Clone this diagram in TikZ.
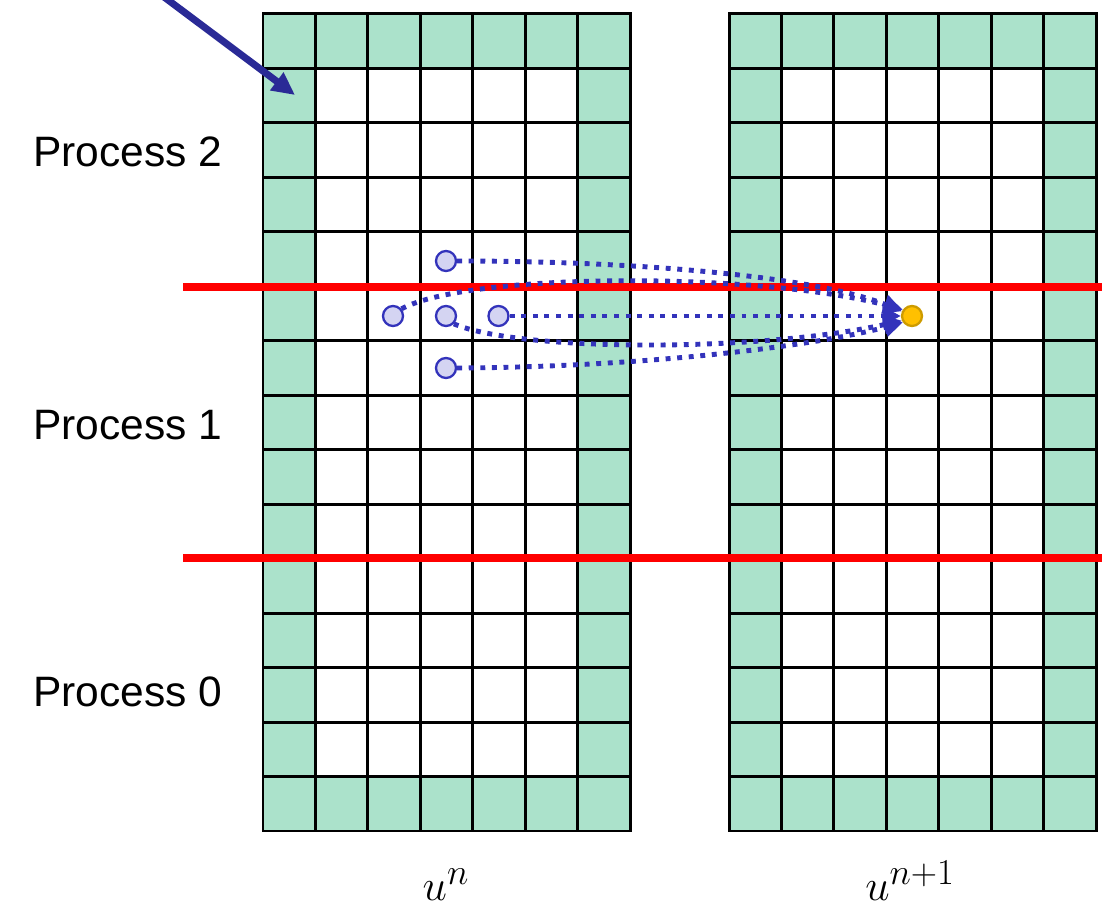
\documentclass[tikz,border=0pt]{standalone}
\usepackage{fontspec}
\setmainfont{Liberation Sans}
\usetikzlibrary{arrows.meta}
\definecolor{halo}{RGB}{171,226,203}
\definecolor{dotblue}{RGB}{51,51,187}
\definecolor{ptfill}{RGB}{212,212,242}
\definecolor{navy}{RGB}{42,42,150}
\definecolor{amber}{RGB}{255,192,0}
\definecolor{amberline}{RGB}{205,155,0}
\definecolor{redline}{RGB}{255,0,0}
\begin{document}
\begin{tikzpicture}[x=0.02cm,y=-0.02cm,
  gridline/.style={black,line width=1.7pt},
  divider/.style={redline,line width=4.4pt},
  flow/.style={dotblue,line width=2.8pt,dash pattern=on 2.8pt off 3.8pt,
    -{Triangle[length=10.5pt,width=10.5pt]}},
  pointer/.style={navy,line width=4pt,-{Triangle[length=13pt,width=12pt]}},
  srcpt/.style={circle,draw=dotblue,fill=ptfill,line width=1.3pt,minimum size=0.4cm,inner sep=0pt},
  dstpt/.style={circle,draw=amberline,fill=amber,line width=1.3pt,minimum size=0.4cm,inner sep=0pt},
  proclabel/.style={anchor=west,inner sep=0pt,font=\fontsize{24.2}{28}\selectfont},
  fieldlabel/.style={anchor=base,inner sep=0pt,font=\fontsize{30}{34}\selectfont}]
\useasboundingbox (0,0) rectangle (1102,908);
% grids
\foreach \X in {263,729} {
  \fill[halo] (\X,14) rectangle (\X+367,68.47);
  \fill[halo] (\X,776.53) rectangle (\X+367,831);
  \fill[halo] (\X,14) rectangle (\X+52.43,831);
  \fill[halo] (\X+314.57,14) rectangle (\X+367,831);
  \foreach \i in {1,...,6} \draw[gridline] (\X+\i*52.43,14) -- (\X+\i*52.43,831);
  \foreach \j in {1,...,14} \draw[gridline] (\X,14+\j*54.47) -- (\X+367,14+\j*54.47);
  \draw[gridline] (\X,14) rectangle (\X+367,831);
}
% process boundaries
\draw[divider] (183,287) -- (1102,287);
\draw[divider] (183,558) -- (1102,558);
% labels
\node[proclabel] (p2) at (33,152) {Process 2};
\node[proclabel] (p1) at (33,425) {Process 1};
\node[proclabel] (p0) at (33,692) {Process 0};
\node[fieldlabel] (un) at (446,900) {$u^{n}$};
\node[fieldlabel] (un1) at (910,900) {$u^{n+1}$};
% stencil points
\node[srcpt] (a) at (446,261) {};
\node[srcpt] (l) at (393,316) {};
\node[srcpt] (c) at (446,316) {};
\node[srcpt] (r) at (498.5,316) {};
\node[srcpt] (b) at (446,368) {};
\node[dstpt] (q) at (912,316) {};
% dependencies
\draw[flow] (a.east) .. controls (650,261) and (820,278) .. (q.155);
\draw[flow] (l.40) .. controls (470,272) and (760,272) .. (q.145);
\draw[flow] (r.east) -- (q.west);
\draw[flow] (c.-45) .. controls (520,352) and (760,352) .. (q.205);
\draw[flow] (b.east) .. controls (650,367) and (820,345) .. (q.215);
% halo pointer
\coordinate (src) at (160,-6);
\coordinate (tip) at (295,95);
\draw[pointer] (src) -- (tip);
\end{tikzpicture}
\end{document}
